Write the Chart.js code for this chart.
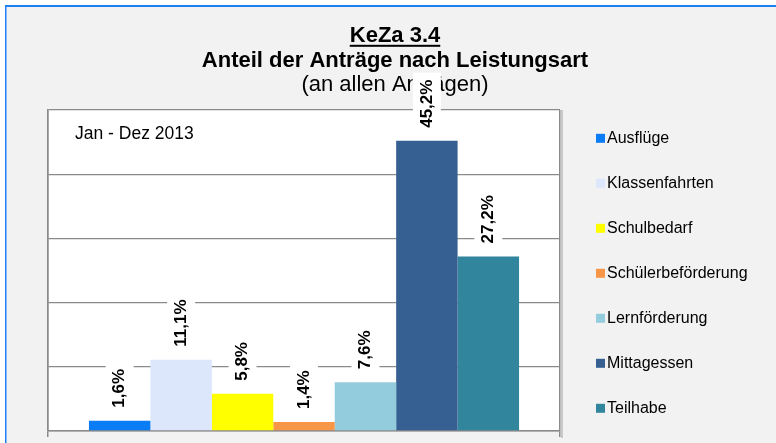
<!DOCTYPE html>
<html>
<head>
<meta charset="utf-8">
<script src="https://cdn.jsdelivr.net/npm/chart.js@4.4.1/dist/chart.umd.min.js"></script>
<style>
  html, body { margin: 0; padding: 0; background: #ffffff; }
  #wrap { width: 776px; height: 443px; }
</style>
</head>
<body>
<div id="wrap"><canvas id="c" width="776" height="443"></canvas></div>
<script>
// ---- data ----
const categories = ['Ausflüge', 'Klassenfahrten', 'Schulbedarf', 'Schülerbeförderung', 'Lernförderung', 'Mittagessen', 'Teilhabe'];
const values = [1.6, 11.1, 5.8, 1.4, 7.6, 45.2, 27.2];
const colors = ['#0a7cf5', '#dde7fb', '#ffff00', '#f79646', '#93cddd', '#376092', '#31859c'];
const yMin = 0, yMax = 50, yStep = 10;
const titleLines = ['KeZa 3.4', 'Anteil der Anträge nach Leistungsart'];
const subtitleText = '(an allen Anträgen)';
const periodLabel = 'Jan - Dez 2013';

const FONT = '"Liberation Sans", Arial, sans-serif';
Chart.defaults.font.family = FONT;
Chart.defaults.color = '#000';

const fmt = v => v.toFixed(1).replace('.', ',') + '%';
const GRID = '#8a8a8a';

const decor = {
  id: 'decor',
  beforeDraw(chart) {
    const ctx = chart.ctx, ca = chart.chartArea;
    ctx.save();
    ctx.fillStyle = '#ffffff';
    ctx.fillRect(0, 0, chart.width, chart.height);
    ctx.fillStyle = '#f2f2f2';
    ctx.fillRect(5, 5, chart.width - 5, chart.height - 5);
    ctx.fillStyle = '#1f80f2';
    ctx.fillRect(5, 5, chart.width - 5, 2);
    ctx.fillRect(5, 5, 1.5, chart.height - 5);
    ctx.fillStyle = '#ffffff';
    ctx.fillRect(ca.left, ca.top, ca.right - ca.left, ca.bottom - ca.top);
    // light shadow on the right frame edge
    ctx.fillStyle = '#c9c9c9';
    ctx.fillRect(ca.right + 1, ca.top, 2, ca.bottom - ca.top + 7);
    ctx.restore();
  },
  afterDraw(chart) {
    const ctx = chart.ctx, ca = chart.chartArea;
    ctx.save();
    // underline for first title line
    const tb = chart.titleBlock;
    const tOpts = chart.options.plugins.title;
    const tFont = Chart.helpers.toFont(tOpts.font);
    ctx.font = tFont.string;
    const w = ctx.measureText(titleLines[0]).width;
    const cx = (tb.left + tb.right) / 2;
    const mid1 = tb.top + tOpts.padding.top + tFont.lineHeight / 2;
    ctx.fillStyle = '#000';
    ctx.fillRect(cx - w / 2, mid1 + 9, w, 2);

    // period label inside the plot
    ctx.font = '17.5px ' + FONT;
    ctx.textAlign = 'left';
    ctx.textBaseline = 'alphabetic';
    ctx.fillText(periodLabel, ca.left + 27, 139);

    // value labels
    ctx.font = 'bold 17px ' + FONT;
    chart.data.datasets.forEach((ds, i) => {
      const meta = chart.getDatasetMeta(i);
      const bar = meta.data[0];
      if (!bar) return;
      const txt = fmt(ds.data[0]);
      const tw = ctx.measureText(txt).width;
      ctx.save();
      ctx.translate(bar.x, bar.y - 13);
      ctx.rotate(-Math.PI / 2);
      ctx.fillStyle = '#ffffff';
      ctx.fillRect(-7, -14, tw + 14, 28);
      ctx.fillStyle = '#000';
      ctx.textAlign = 'left';
      ctx.textBaseline = 'middle';
      ctx.fillText(txt, 0, 0);
      ctx.restore();
    });

    // legend
    ctx.font = '16px ' + FONT;
    ctx.textAlign = 'left';
    ctx.textBaseline = 'middle';
    chart.data.datasets.forEach((ds, i) => {
      const y = 138.3 + i * 45;
      ctx.fillStyle = ds.backgroundColor;
      ctx.fillRect(596, y - 4.5, 9, 9);
      ctx.fillStyle = '#000';
      ctx.fillText(ds.label, 607, y);
    });
    ctx.restore();
  }
};

new Chart(document.getElementById('c'), {
  type: 'bar',
  data: {
    labels: [''],
    datasets: categories.map((c, i) => ({
      label: c,
      data: [values[i]],
      backgroundColor: colors[i],
      borderWidth: 0,
      categoryPercentage: 0.84,
      barPercentage: 1.0
    }))
  },
  options: {
    responsive: false,
    animation: false,
    devicePixelRatio: 1,
    layout: { padding: { left: 14, right: 0, top: 10, bottom: 6 } },
    plugins: {
      legend: { display: false },
      tooltip: { enabled: false },
      title: {
        display: true,
        text: titleLines,
        color: '#000',
        font: { size: 22, weight: 'bold', lineHeight: '25px' },
        padding: { top: 13.3, bottom: 0 }
      },
      subtitle: {
        display: true,
        text: subtitleText,
        color: '#000',
        font: { size: 22, weight: 'normal', lineHeight: '24px' },
        padding: { top: 0, bottom: 12.7 }
      }
    },
    scales: {
      x: {
        offset: true,
        ticks: { display: false },
        grid: { display: true, offset: true, color: GRID, lineWidth: 1.5, drawTicks: true, tickLength: 6 },
        border: { display: true, color: GRID, width: 1.5 }
      },
      y: {
        min: yMin, max: yMax,
        ticks: { display: false, stepSize: yStep },
        grid: { color: GRID, lineWidth: 1.3, drawTicks: false },
        border: { display: true, color: GRID, width: 1.5 },
        afterFit: s => { s.width = 34; }
      },
      yR: {
        position: 'right',
        display: true,
        ticks: { display: false },
        grid: { display: false },
        border: { display: false },
        afterFit: s => { s.width = 216; }
      }
    }
  },
  plugins: [decor]
});
</script>
</body>
</html>
